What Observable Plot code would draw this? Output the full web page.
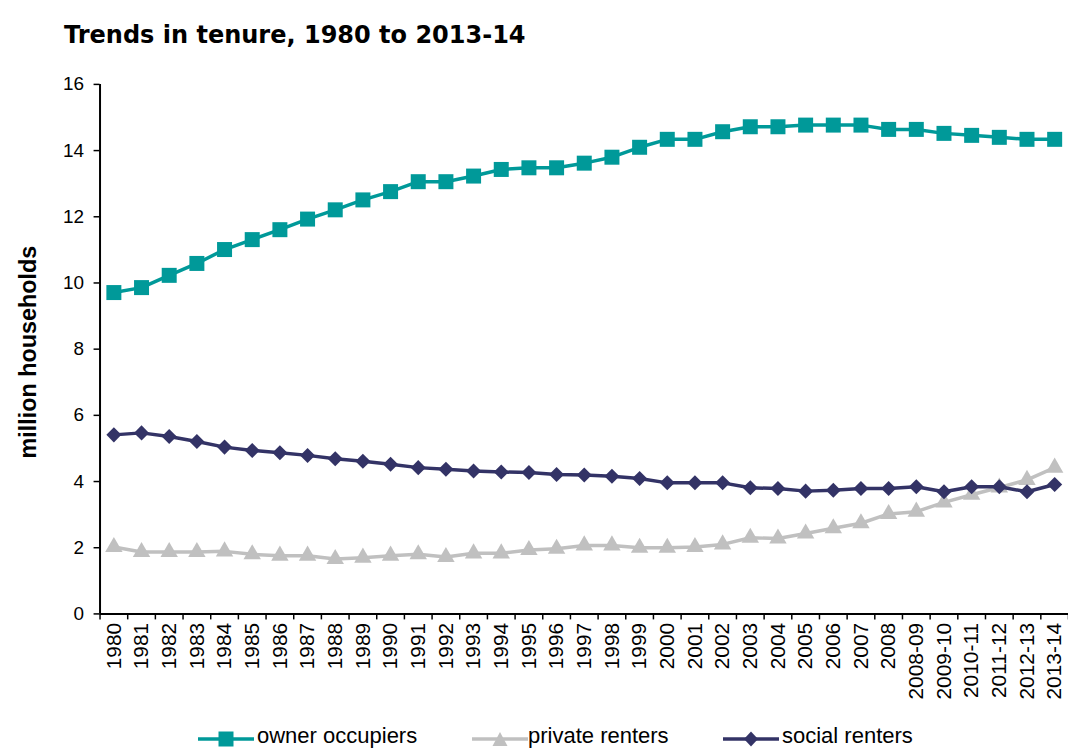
<!DOCTYPE html>
<html>
<head>
<meta charset="utf-8">
<script src="https://cdn.jsdelivr.net/npm/d3@7"></script>
<script src="https://cdn.jsdelivr.net/npm/@observablehq/plot@0.6"></script>
<style>
  html, body { margin: 0; padding: 0; background: #fff; overflow: hidden; }
  #wrap { position: relative; width: 1068px; height: 749px; overflow: hidden; }
  #title { position: absolute; left: 64px; top: 0; height: 62px; line-height: 70px;
           font-family: "DejaVu Sans", sans-serif; font-weight: bold; font-size: 24px; color: #000; white-space: nowrap; }
  #chart { position: absolute; left: 0; top: 62px; }
  .lg-svg { position: absolute; top: 731px; }
  .lg-txt { position: absolute; top: 725px; font-family: "Liberation Sans", Arial, sans-serif; font-size: 22px; line-height: 22px; color: #000; white-space: nowrap; }
</style>
</head>
<body>
<div id="wrap">
  <div id="title">Trends in tenure, 1980 to 2013-14</div>
  <div id="chart"></div>
  <div id="legend"></div>
</div>
<script>
const categories = ["1980","1981","1982","1983","1984","1985","1986","1987","1988","1989",
  "1990","1991","1992","1993","1994","1995","1996","1997","1998","1999",
  "2000","2001","2002","2003","2004","2005","2006","2007","2008",
  "2008-09","2009-10","2010-11","2011-12","2012-13","2013-14"];

const ownerOccupiers = [9.71, 9.86, 10.23, 10.59, 11.01, 11.31, 11.61, 11.93, 12.21, 12.51,
  12.76, 13.06, 13.06, 13.23, 13.43, 13.48, 13.48, 13.62, 13.80, 14.10,
  14.34, 14.34, 14.57, 14.72, 14.72, 14.77, 14.77, 14.77, 14.64,
  14.64, 14.52, 14.46, 14.40, 14.34, 14.34];

const privateRenters = [2.02, 1.87, 1.87, 1.87, 1.89, 1.80, 1.76, 1.76, 1.66, 1.70,
  1.76, 1.80, 1.72, 1.83, 1.83, 1.93, 1.97, 2.07, 2.07, 2.00,
  2.00, 2.02, 2.10, 2.30, 2.28, 2.43, 2.59, 2.74, 3.02,
  3.09, 3.37, 3.60, 3.82, 4.05, 4.42];

const socialRenters = [5.41, 5.47, 5.36, 5.21, 5.04, 4.94, 4.87, 4.79, 4.69, 4.61,
  4.52, 4.42, 4.37, 4.32, 4.29, 4.27, 4.21, 4.20, 4.16, 4.09,
  3.96, 3.96, 3.96, 3.81, 3.79, 3.71, 3.74, 3.79, 3.79,
  3.84, 3.69, 3.84, 3.84, 3.69, 3.91];

const yTicks = [0, 2, 4, 6, 8, 10, 12, 14, 16];

const seriesNames = ["owner occupiers", "private renters", "social renters"];
const seriesColors = ["#009999", "#c0c0c0", "#333366"];

const toRows = (vals) => vals.map((v, i) => ({i, cat: categories[i], v}));
const owner = toRows(ownerOccupiers);
const priv = toRows(privateRenters);
const social = toRows(socialRenters);

const idx = d3.range(categories.length);
const halfTicks = d3.range(-0.5, categories.length, 1);
const FONT = "'Liberation Sans', Arial, sans-serif";

const chart = Plot.plot({
  width: 1073,
  height: 653,
  marginLeft: 100,
  marginRight: 0,
  marginTop: 22,
  marginBottom: 99,
  style: {fontFamily: FONT, color: "#000", background: "#fff", overflow: "visible"},
  x: {type: "linear", domain: [-0.5, categories.length - 0.5]},
  y: {domain: [0, 16]},
  marks: [
    Plot.axisY({ticks: yTicks, tickSize: 6, tickPadding: 10, fontSize: 19, label: null, strokeWidth: 1.5}),
    Plot.axisX(halfTicks, {tickFormat: () => "", tickSize: 6, label: null, strokeWidth: 1.5}),
    Plot.axisX(idx, {tickFormat: (i) => categories[i], tickSize: 0, tickPadding: 9, tickRotate: -90, fontSize: 21, label: null}),
    Plot.ruleX([-0.5], {y1: 0, y2: 16, stroke: "#000", strokeWidth: 2}),
    Plot.ruleY([0], {x1: -0.5, x2: categories.length - 0.5, stroke: "#000", strokeWidth: 2}),
    Plot.text(["million households"], {frameAnchor: "left", dx: -72, dy: 3, rotate: -90, textAnchor: "middle", lineAnchor: "middle", fontSize: 23.5, fontWeight: "bold", fill: "#000"}),
    Plot.line(owner, {x: "i", y: "v", stroke: seriesColors[0], strokeWidth: 3.5}),
    Plot.dot(owner, {x: "i", y: "v", symbol: "square", r: 8.5, fill: seriesColors[0], stroke: "none"}),
    Plot.line(priv, {x: "i", y: "v", stroke: seriesColors[1], strokeWidth: 3.5}),
    Plot.dot(priv, {x: "i", y: "v", symbol: "triangle", r: 6.5, fill: seriesColors[1], stroke: "none"}),
    Plot.line(social, {x: "i", y: "v", stroke: seriesColors[2], strokeWidth: 3.5}),
    Plot.dot(social, {x: "i", y: "v", symbol: "diamond2", r: 6.8, fill: seriesColors[2], stroke: "none"})
  ]
});
document.getElementById("chart").appendChild(chart);

// Legend (below the chart)
const legend = document.getElementById("legend");
const legendPos = [{sw: 198, tx: 257}, {sw: 472, tx: 528}, {sw: 723, tx: 782}];
const markerPath = [
  "M20.5,0.5h15v15h-15z",
  "M28,1L35.5,15L20.5,15z",
  "M28,0.5L35,8L28,15.5L21,8z"
];
seriesNames.forEach((name, k) => {
  const s = document.createElementNS("http://www.w3.org/2000/svg", "svg");
  s.setAttribute("class", "lg-svg");
  s.setAttribute("width", "56");
  s.setAttribute("height", "16");
  s.style.left = legendPos[k].sw + "px";
  s.innerHTML = `<line x1="0" x2="56" y1="8" y2="8" stroke="${seriesColors[k]}" stroke-width="3.5"/>` +
    `<path d="${markerPath[k]}" fill="${seriesColors[k]}"/>`;
  legend.appendChild(s);
  const t = document.createElement("div");
  t.className = "lg-txt";
  t.style.left = legendPos[k].tx + "px";
  t.textContent = name;
  legend.appendChild(t);
});
</script>
</body>
</html>
